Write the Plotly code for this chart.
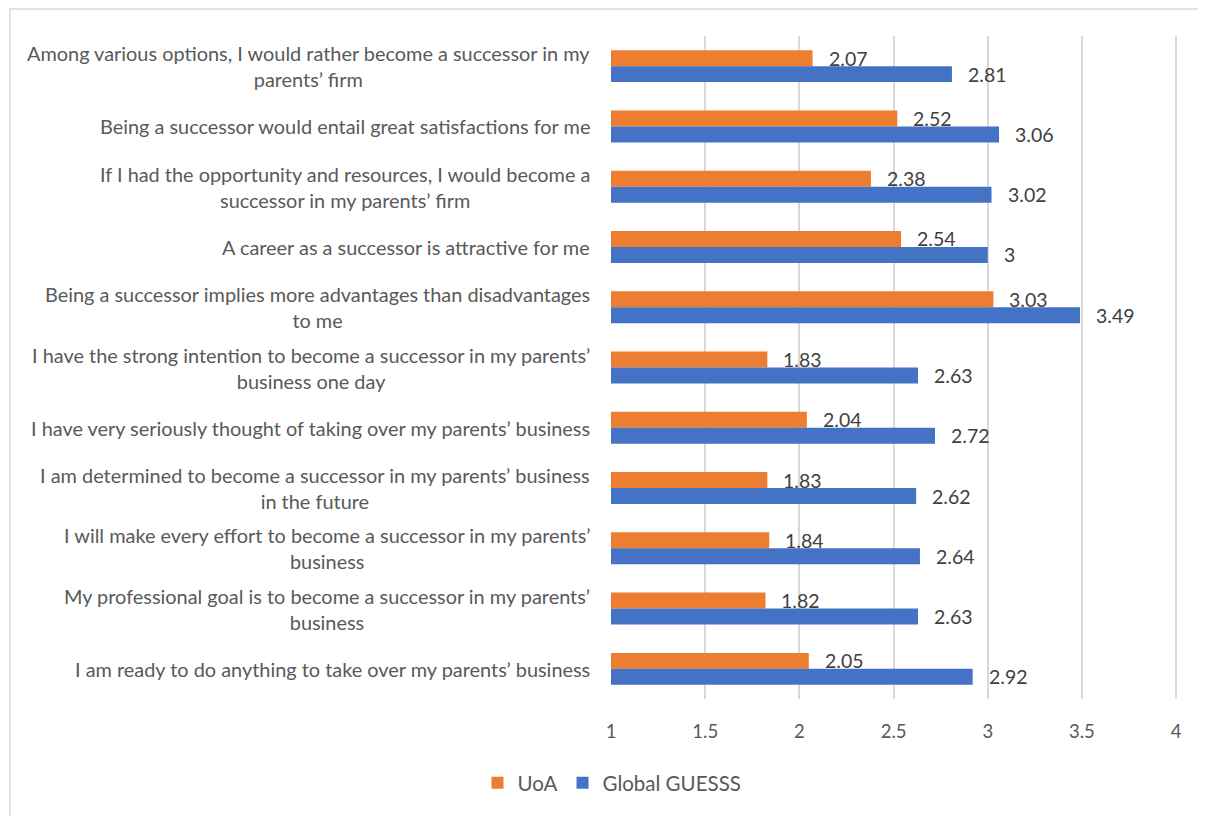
import plotly.graph_objects as go

categories = [
    "Among various options, I would rather become a successor in my<br>parents’ firm",
    "Being a successor would entail great satisfactions for me",
    "If I had the opportunity and resources, I would become a<br>successor in my parents’ firm",
    "A career as a successor is attractive for me",
    "Being a successor implies more advantages than disadvantages<br>to me",
    "I have the strong intention to become a successor in my parents’<br>business one day",
    "I have very seriously thought of taking over my parents’ business",
    "I am determined to become a successor in my parents’ business<br>in the future",
    "I will make every effort to become a successor in my parents’<br>business",
    "My professional goal is to become a successor in my parents’<br>business",
    "I am ready to do anything to take over my parents’ business",
]
uoa = [2.07, 2.52, 2.38, 2.54, 3.03, 1.83, 2.04, 1.83, 1.84, 1.82, 2.05]
global_guesss = [2.81, 3.06, 3.02, 3, 3.49, 2.63, 2.72, 2.62, 2.64, 2.63, 2.92]
x_ticks = [1, 1.5, 2, 2.5, 3, 3.5, 4]
x_tick_labels = ["1", "1.5", "2", "2.5", "3", "3.5", "4"]

FONT = "Lato"
GREY = "#595959"
ORANGE = "#ED7D31"
BLUE = "#4472C4"

fig = go.Figure()
fig.add_trace(go.Bar(name="UoA", y=categories, x=uoa, orientation="h",
                     marker=dict(color=ORANGE, line=dict(width=0))))
fig.add_trace(go.Bar(name="Global GUESSS", y=categories, x=global_guesss, orientation="h",
                     marker=dict(color=BLUE, line=dict(width=0))))

annotations = []
# value labels
for series, shift in ((uoa, 8), (global_guesss, -8)):
    for cat, v in zip(categories, series):
        annotations.append(dict(x=v, y=cat, xref="x", yref="y", text=f"{v:g}",
                                showarrow=False, xanchor="left", yanchor="middle",
                                xshift=14, yshift=shift,
                                font=dict(family=FONT, size=19.5, color="#404040")))
# category labels (centered multi-line)
for cat in categories:
    annotations.append(dict(x=0, y=cat, xref="paper", yref="y", text=cat,
                            showarrow=False, xanchor="right", yanchor="middle",
                            xshift=-19, align="center",
                            font=dict(family=FONT, size=19.9, color=GREY)))

# geometry in reference-image pixels (page has an 8px body margin)
OFF = 8
XMAX = 4.01
pw, ph = 567, 663
L, T = 611, 36
B = T + ph


def px_x(p):
    return (p - L) / pw


def px_y(p):
    return (B - p) / ph


fig.update_layout(
    width=1206, height=816,
    margin=dict(l=L - OFF, r=1206 - (L - OFF) - pw, t=T - OFF, b=816 - (T - OFF) - ph, pad=0),
    paper_bgcolor="white", plot_bgcolor="white",
    barmode="group", bargap=0.47, bargroupgap=0,
    font=dict(family=FONT, color=GREY, size=18),
    xaxis=dict(range=[1, XMAX], tickvals=x_ticks, ticktext=x_tick_labels,
               showgrid=True, gridcolor="#d9d9d9", gridwidth=2,
               zeroline=False, showline=False, ticks="", ticklen=0,
               ticklabelstandoff=19,
               tickfont=dict(family=FONT, size=18.5, color=GREY)),
    yaxis=dict(autorange="reversed", showticklabels=False, showgrid=False,
               zeroline=False, showline=False, ticks=""),
    legend=dict(orientation="h", x=px_x(612), y=px_y(783), xanchor="center", yanchor="middle",
                font=dict(family=FONT, size=20.5, color=GREY), itemwidth=30,
                traceorder="normal"),
    annotations=annotations,
    shapes=[dict(type="rect", xref="paper", yref="paper",
                 x0=px_x(10), x1=px_x(1230), y0=px_y(9), y1=px_y(840),
                 line=dict(color="#d9d9d9", width=1.5), fillcolor="rgba(0,0,0,0)",
                 layer="below")],
)

fig.write_html("out.html")
